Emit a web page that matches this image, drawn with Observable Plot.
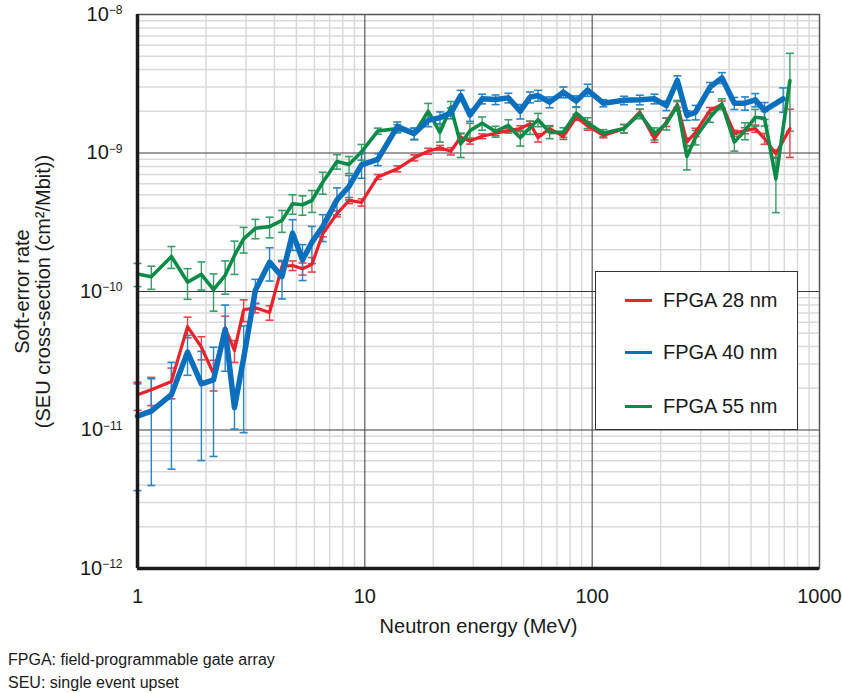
<!DOCTYPE html>
<html><head><meta charset="utf-8">
<script src="https://cdn.jsdelivr.net/npm/d3@7"></script>
<script src="https://cdn.jsdelivr.net/npm/@observablehq/plot@0.6"></script>
<style>
body{margin:0;background:#fff;font-family:"Liberation Sans",Arial,sans-serif;color:#1a1a1a;}
#wrap{position:relative;width:842px;height:693px;}
#notes{position:absolute;left:8px;top:648px;font-size:16px;line-height:23px;}
#legend{position:absolute;left:595px;top:271px;width:203px;height:159px;border:1px solid #333;background:#fff;box-sizing:border-box;}
.row{position:absolute;left:0;height:24px;display:flex;align-items:center;font-size:20px;}
.sw{display:inline-block;width:27px;height:3px;margin-left:29px;margin-right:11px;}
</style></head><body>
<div id="wrap">
<div id="chart"></div>
<div id="legend"></div>
<div id="notes"><div>FPGA: field-programmable gate array</div><div>SEU: single event upset</div></div>
</div>
<script>
// Neutron energy (MeV) of each measurement
const energy = [1.00,1.15,1.41,1.66,1.91,2.16,2.43,2.67,2.93,3.30,3.81,4.32,4.81,5.32,5.85,6.53,7.54,8.52,9.67,11.4,
  13.9,16.5,19.0,21.4,23.9,26.4,29.0,32.8,37.6,42.8,48.3,53.3,57.8,65.0,74.7,85.1,95.5,112,138,162,
  188,212,237,261,285,330,372,422,470,522,573,643,692,741];
// SEU cross-section (cm^2/Mbit)
const fpga28 = [1.80e-11,1.95e-11,2.24e-11,5.58e-11,3.96e-11,2.55e-11,5.47e-11,3.75e-11,7.38e-11,7.62e-11,7.05e-11,1.52e-10,1.54e-10,1.46e-10,1.57e-10,2.61e-10,3.64e-10,4.54e-10,4.40e-10,6.72e-10,
  7.69e-10,9.23e-10,1.03e-9,1.09e-9,1.03e-9,1.30e-9,1.22e-9,1.32e-9,1.39e-9,1.45e-9,1.50e-9,1.63e-9,1.29e-9,1.50e-9,1.32e-9,1.81e-9,1.57e-9,1.34e-9,1.50e-9,1.97e-9,
  1.27e-9,1.67e-9,2.24e-9,1.20e-9,1.41e-9,2.03e-9,2.24e-9,1.39e-9,1.45e-9,1.50e-9,1.27e-9,9.86e-10,null,1.50e-9];
const fpga40 = [1.26e-11,1.37e-11,1.80e-11,3.65e-11,2.15e-11,2.30e-11,5.32e-11,1.45e-11,3.3e-11,1.02e-10,1.63e-10,1.28e-10,2.64e-10,1.69e-10,2.27e-10,2.94e-10,4.59e-10,5.73e-10,8.22e-10,9.0e-10,
  1.55e-9,1.38e-9,1.72e-9,1.80e-9,1.94e-9,2.60e-9,1.88e-9,2.46e-9,2.43e-9,2.50e-9,2.00e-9,2.53e-9,2.60e-9,2.33e-9,2.75e-9,2.37e-9,2.85e-9,2.29e-9,2.40e-9,2.42e-9,
  2.46e-9,2.20e-9,3.34e-9,1.87e-9,1.97e-9,2.99e-9,3.49e-9,2.29e-9,2.29e-9,2.42e-9,2.03e-9,null,2.46e-9,null];
const fpga55 = [1.34e-10,1.28e-10,1.79e-10,1.17e-10,1.33e-10,1.03e-10,1.31e-10,1.82e-10,2.40e-10,2.86e-10,2.94e-10,3.26e-10,4.30e-10,4.23e-10,4.54e-10,6.15e-10,8.69e-10,8.27e-10,1.02e-9,1.44e-9,
  1.50e-9,1.38e-9,2.00e-9,1.41e-9,2.14e-9,1.16e-9,1.45e-9,1.64e-9,1.43e-9,1.58e-9,1.29e-9,1.53e-9,1.74e-9,1.41e-9,1.41e-9,1.94e-9,1.65e-9,1.39e-9,1.50e-9,1.92e-9,
  1.38e-9,1.63e-9,2.20e-9,9.44e-10,1.30e-9,1.81e-9,2.26e-9,1.20e-9,1.45e-9,1.81e-9,1.78e-9,6.51e-10,null,3.34e-9];
// relative (1-sigma) error of each value
const err28 = [0.23,0.23,0.25,0.17,0.19,0.25,0.21,0.18,0.18,0.08,0.12,0.08,0.08,0.10,0.12,0.05,0.05,0.05,0.06,0.04,
  0.05,0.05,0.05,0.04,0.06,0.06,0.05,0.04,0.04,0.04,0.05,0.04,0.07,0.05,0.05,0.05,0.07,0.04,0.07,0.05,
  0.06,0.07,0.05,0.07,0.07,0.05,0.06,0.05,0.05,0.06,0.09,0.07,null,0.38];
const err40 = [0.71,0.71,0.71,0.32,0.72,0.72,0.50,0.30,0.71,0.20,0.27,0.31,0.25,0.29,0.30,0.22,0.22,0.20,0.20,0.10,
  0.08,0.09,0.10,0.10,0.09,0.09,0.10,0.08,0.08,0.08,0.12,0.09,0.09,0.09,0.09,0.09,0.10,0.06,0.07,0.08,
  0.08,0.08,0.08,0.08,0.12,0.08,0.09,0.10,0.11,0.11,0.14,null,0.20,null];
const err55 = [0.19,0.19,0.18,0.25,0.23,0.30,0.27,0.27,0.21,0.16,0.17,0.18,0.16,0.16,0.18,0.18,0.12,0.14,0.13,0.05,
  0.07,0.10,0.14,0.15,0.10,0.20,0.13,0.11,0.09,0.10,0.13,0.11,0.11,0.10,0.08,0.10,0.09,0.06,0.07,0.08,
  0.10,0.10,0.09,0.20,0.12,0.08,0.09,0.14,0.14,0.14,0.12,0.43,null,0.57];

const seriesNames = ["FPGA 28 nm","FPGA 40 nm","FPGA 55 nm"];
const lineColors = ["#e8232b","#0a6fbd","#0a8c48"];
const barColors = ["#e8434b","#2a84c8","#3a9d68"];
const lineWidths = [3.2,5.5,3.6];

const values = [fpga28, fpga40, fpga55];
const errors = [err28, err40, err55];
const rows = [];
values.forEach((vals, s) => vals.forEach((v, i) => {
  if (v != null) rows.push({s, name: seriesNames[s], E: energy[i], v, e: errors[s][i]});
}));

const decades = [1,10,100];
const minorX = decades.flatMap(d => d3.range(2,10).map(k => k*d));
const ydec = [1e-12,1e-11,1e-10,1e-9];
const minorY = ydec.flatMap(d => d3.range(2,10).map(k => k*d));
const xTicks = [1,10,100,1000];
const yTicks = [1e-12,1e-11,1e-10,1e-9,1e-8];

const cap = {draw(ctx){ ctx.moveTo(-4,0); ctx.lineTo(4,0); }};

const drawOrder = [0,2,1];
const marks = [
  Plot.gridX(minorX, {stroke:"#dadada", strokeOpacity:1, strokeWidth:1.5}),
  Plot.gridY(minorY, {stroke:"#dadada", strokeOpacity:1, strokeWidth:1.5}),
  Plot.gridX(xTicks, {stroke:"#3a3a3a", strokeOpacity:1, strokeWidth:1}),
  Plot.gridY(yTicks, {stroke:"#3a3a3a", strokeOpacity:1, strokeWidth:1}),
  Plot.frame({stroke:"#555", strokeWidth:1.5}),
];
for (const s of drawOrder) {
  const d = rows.filter(r => r.s === s);
  marks.push(Plot.link(d, {x1:"E", x2:"E", y1: r => r.v*(1-r.e), y2: r => r.v*(1+r.e), stroke: barColors[s], strokeWidth:1.4}));
  marks.push(Plot.dot(d, {x:"E", y: r => r.v*(1+r.e), symbol: cap, fill:"none", stroke: barColors[s], strokeWidth:1.6}));
  marks.push(Plot.dot(d, {x:"E", y: r => r.v*(1-r.e), symbol: cap, fill:"none", stroke: barColors[s], strokeWidth:1.6}));
}
for (const s of drawOrder) {
  const d = rows.filter(r => r.s === s);
  marks.push(Plot.line(d, {x:"E", y:"v", stroke: lineColors[s], strokeWidth: lineWidths[s]}));
}
marks.push(
  Plot.ruleX([1], {stroke:"#1a1a1a", strokeWidth:3.5}),
  Plot.ruleY([1e-12], {stroke:"#1a1a1a", strokeWidth:3.5}),
  Plot.axisX({ticks: xTicks, tickFormat: d => String(d), tickSize:0, tickPadding:20, fontSize:20, label:null}),
  Plot.axisY({ticks: yTicks, tickFormat: d => "10^" + Math.round(Math.log10(d)), tickSize:0, tickPadding:15, fontSize:20, label:null}),
  Plot.text(["Neutron energy (MeV)"], {frameAnchor:"bottom", dy:64, fontSize:20}),
  Plot.text(["Soft-error rate\n(SEU cross-section (cm²/Mbit))"], {frameAnchor:"left", textAnchor:"middle", rotate:-90, dx:-105, fontSize:20, lineHeight:1.05})
);

const chart = Plot.plot({
  width: 842, height: 645,
  marginLeft: 137, marginRight: 23, marginTop: 14, marginBottom: 77,
  style: {fontFamily: "'Liberation Sans', Arial, sans-serif", color:"#1a1a1a", background:"#fff"},
  x: {type:"log", domain:[1,1000]},
  y: {type:"log", domain:[1e-12,1e-8]},
  marks
});
document.getElementById("chart").appendChild(chart);

// superscript exponents on y tick labels
d3.select(chart).selectAll('g[aria-label="y-axis tick label"] text').each(function(){
  const t = d3.select(this);
  const s = t.text();
  if (!s.startsWith("10^")) return;
  const exp = s.slice(3).replace("-", "\u2212");
  t.text("");
  t.append("tspan").text("10");
  t.append("tspan").attr("dy","-0.55em").attr("font-size","12px").text(exp);
});

// legend
const legend = document.getElementById("legend");
const rowTops = [16, 68, 122];
seriesNames.forEach((n, s) => {
  const r = document.createElement("div");
  r.className = "row"; r.style.top = rowTops[s] + "px";
  const sw = document.createElement("span");
  sw.className = "sw"; sw.style.background = lineColors[s];
  r.appendChild(sw);
  r.appendChild(document.createTextNode(n));
  legend.appendChild(r);
});
</script>
</body></html>
